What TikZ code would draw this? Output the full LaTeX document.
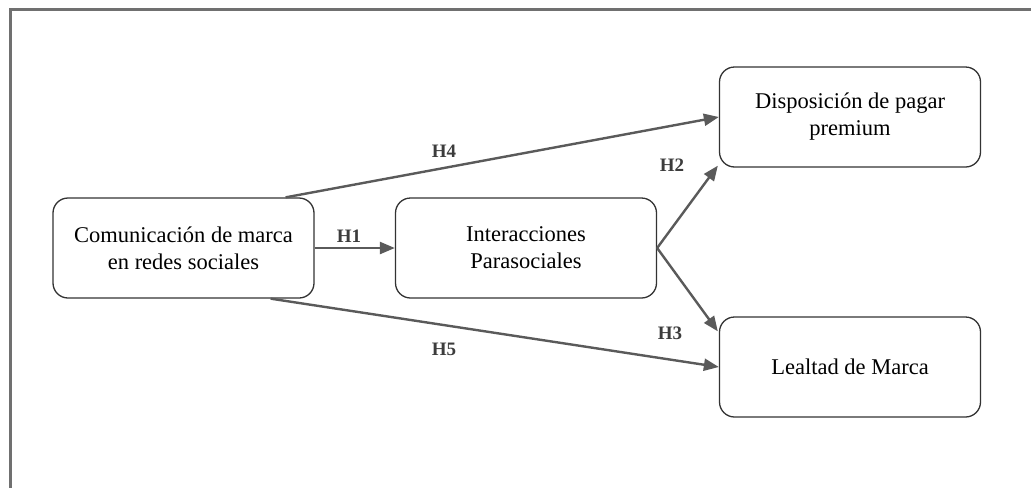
\documentclass[tikz,border=0pt]{standalone}
\usepackage{fontspec}
\setmainfont{Liberation Serif}
\usetikzlibrary{arrows.meta}
\definecolor{framegray}{HTML}{707070}
\definecolor{boxline}{HTML}{333333}
\definecolor{arrowgray}{HTML}{5A5A5A}
\definecolor{labelgray}{HTML}{3C3C3C}
\begin{document}
\begin{tikzpicture}[x=1pt,y=-1pt,
  construct/.style={draw=boxline,line width=1.3pt,rounded corners=15pt,
    minimum width=261pt,minimum height=100pt,align=center,inner sep=0pt,
    font=\fontsize{22.5}{27}\selectfont},
  path/.style={draw=arrowgray,line width=2.4pt,
    -{Triangle[length=15pt,width=12pt]}},
  hyp/.style={text=labelgray,font=\fontsize{19}{22}\selectfont\bfseries,inner sep=0pt}]
  \useasboundingbox (0,0) rectangle (1031,488);
  % outer frame (top and left edges only)
  \draw[framegray,line width=3pt] (1031,9) -- (10,9) -- (10,488);

  % constructs
  \node[construct] (A) at (183.5,248) {Comunicación de marca\\en redes sociales};
  \node[construct] (B) at (526,248) {Interacciones\\Parasociales};
  \node[construct] (C) at (850,117) {Disposición de pagar\\premium};
  \node[construct] (D) at (850,367) {Lealtad de Marca};

  % hypothesised paths
  \draw[path] (A.east) -- (B.west);
  \draw[path] ([xshift=-29pt]A.north east) -- (C.west);
  \draw[path] ([xshift=-44pt]A.south east) -- (D.west);
  \draw[path] (B.east) -- ([xshift=-1pt,yshift=2pt]C.south west);
  \draw[path] (B.east) -- ([xshift=-1pt,yshift=-15pt]D.north west);

  % hypothesis labels
  \node[hyp] (h1) at (349,236) {H1};
  \node[hyp] (h2) at (672,165) {H2};
  \node[hyp] (h3) at (670,333) {H3};
  \node[hyp] (h4) at (444,151) {H4};
  \node[hyp] (h5) at (444,349) {H5};
\end{tikzpicture}
\end{document}
